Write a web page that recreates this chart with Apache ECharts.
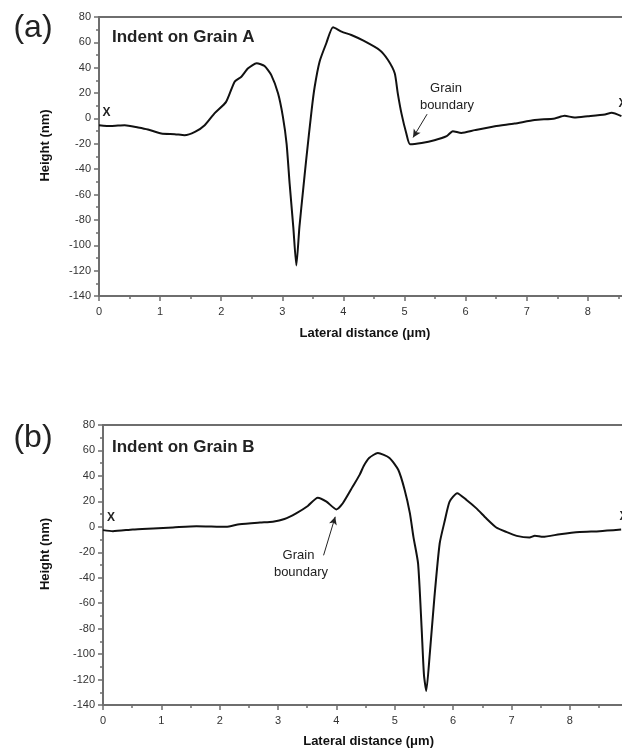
<!DOCTYPE html>
<html>
<head>
<meta charset="utf-8">
<script src="https://cdn.jsdelivr.net/npm/echarts/dist/echarts.min.js"></script>
<style>
  html, body { margin: 0; padding: 0; background: #fff; }
  #chart { width: 622px; height: 749px; }
</style>
</head>
<body>
<div id="chart"></div>
<script>
// profile across indent on grain A (lateral distance in um, height in nm)
const xA = [0.00, 0.20, 0.42, 0.64, 0.80, 1.02, 1.24, 1.40, 1.57, 1.73, 1.89, 2.08, 2.22, 2.33, 2.44, 2.58,
  2.71, 2.82, 2.93, 3.01, 3.07, 3.12, 3.18, 3.23, 3.28, 3.34, 3.39, 3.48, 3.53, 3.61, 3.72, 3.83,
  3.97, 4.13, 4.32, 4.59, 4.73, 4.84, 4.89, 4.95, 5.03, 5.09, 5.28, 5.49, 5.69, 5.79, 5.93, 6.15,
  6.48, 6.80, 7.13, 7.46, 7.62, 7.78, 8.00, 8.28, 8.39, 8.55]
const yA = [-5.3, -6.0, -5.3, -7.1, -8.7, -11.9, -12.4, -13.2, -10.6, -5.3, 4.0, 13.1, 29.0, 32.9, 39.5, 43.5,
  41.3, 34.2, 19.8, 1.3, -19.8, -51.4, -85.7, -116, -85.7, -56.7, -33, 6.6, 25, 44.8, 59.3, 71.9,
  68.5, 65.8, 61.5, 54, 46.1, 35.6, 19.8, 4.0, -11.9, -20.3, -19.3, -17.2, -14, -10, -11.4, -9.2,
  -6.1, -4, -1.3, 0, 2.1, 0.8, 1.8, 3.2, 4.4, 1.8]

// profile across indent on grain B
const xB = [0.00, 0.17, 0.51, 0.86, 1.20, 1.60, 2.11, 2.34, 2.69, 2.91, 3.11, 3.31, 3.51, 3.68, 3.83, 4.00,
  4.11, 4.28, 4.40, 4.47, 4.56, 4.71, 4.91, 5.06, 5.17, 5.26, 5.32, 5.40, 5.46, 5.50, 5.54, 5.60,
  5.68, 5.77, 5.86, 5.94, 6.07, 6.23, 6.40, 6.57, 6.74, 6.91, 7.09, 7.31, 7.40, 7.54, 7.83, 8.17,
  8.51, 8.88]
const yB = [-2.6, -3.4, -2.1, -1.3, -0.5, 0.5, 0.0, 2.1, 3.4, 4.0, 6.1, 10.6, 16.4, 22.9, 19.8, 13.7,
  18.5, 31.6, 41, 48, 54.1, 58, 54.1, 44.8, 29, 10.6, -7.9, -28.9, -79, -115.9, -129, -100,
  -55.3, -13.1, 5.3, 19.8, 26.4, 21.1, 14.5, 6.6, -0.5, -4, -7.1, -8.4, -7.1, -7.9, -5.8, -4,
  -3.4, -2.1]

const xTicks = [0, 9, 1]         // min, max, interval
const yTicks = [-140, 80, 20]

// grain boundary arrows: [tail, head] in data coords
const arrowA = [[5.37, 3.4], [5.14, -15]]
const arrowB = [[3.78, -22.4], [3.98, 7.9]]

const FONT = '"Liberation Sans", Arial, sans-serif'
const AXIS_COLOR = '#6e6e6e'

const chart = echarts.init(document.getElementById('chart'))

// nameGap / name padding differ a little between the two panels
function xAxisCfg(gridIndex, gap, pad) {
  return {
    type: 'value', gridIndex, min: xTicks[0], max: xTicks[1], interval: xTicks[2],
    name: 'Lateral distance (\u03bcm)', nameLocation: 'middle', nameGap: gap,
    nameTextStyle: { fontFamily: FONT, fontSize: 13, fontWeight: 'bold', color: '#111', padding: pad },
    axisLine: { onZero: false, lineStyle: { color: AXIS_COLOR, width: 2 } },
    axisTick: { length: 5, lineStyle: { color: AXIS_COLOR, width: 1.5 } },
    minorTick: { show: true, splitNumber: 2, length: 3, lineStyle: { color: AXIS_COLOR, width: 1.5 } },
    axisLabel: { fontFamily: FONT, fontSize: 11, color: '#333', margin: 10 },
    splitLine: { show: false }
  }
}

function topAxisCfg(gridIndex) {
  return {
    type: 'value', gridIndex, position: 'top', min: xTicks[0], max: xTicks[1],
    axisLine: { onZero: false, lineStyle: { color: AXIS_COLOR, width: 2 } },
    axisTick: { show: false }, axisLabel: { show: false }, splitLine: { show: false }
  }
}

function yAxisCfg(gridIndex, gap) {
  return {
    type: 'value', gridIndex, min: yTicks[0], max: yTicks[1], interval: yTicks[2],
    name: 'Height (nm)', nameLocation: 'middle', nameGap: gap, nameRotate: 90,
    nameTextStyle: { fontFamily: FONT, fontSize: 13, fontWeight: 'bold', color: '#111', padding: [0, 0, 0, 22] },
    axisLine: { onZero: false, lineStyle: { color: AXIS_COLOR, width: 2 } },
    axisTick: { length: 5, lineStyle: { color: AXIS_COLOR, width: 1.5 } },
    minorTick: { show: true, splitNumber: 2, length: 3, lineStyle: { color: AXIS_COLOR, width: 1.5 } },
    axisLabel: { fontFamily: FONT, fontSize: 11, color: '#333', margin: 8 },
    splitLine: { show: false }
  }
}

function arrowLine(a) {
  return {
    silent: true, symbol: ['none', 'arrow'], symbolSize: [6, 8],
    lineStyle: { color: '#222', width: 1, type: 'solid' },
    label: { show: false },
    data: [[{ coord: a[0] }, { coord: a[1] }]]
  }
}

function txt(x, y, text, size, weight, align) {
  return {
    type: 'text', x, y,
    style: { text, fontFamily: FONT, fontSize: size, fontWeight: weight || 'normal', fill: '#222',
      align: align || 'center', verticalAlign: 'middle' }
  }
}

chart.setOption({
  animation: false,
  grid: [
    { left: 99, top: 17, width: 9 * 61.1, height: 279, outerBoundsMode: 'none', containLabel: false },
    { left: 103, top: 425, width: 9 * 58.35, height: 280, outerBoundsMode: 'none', containLabel: false }
  ],
  xAxis: [
    xAxisCfg(0, 31, [0, 18, 0, 0]),
    xAxisCfg(1, 30, [0, 0, 0, 6]),
    topAxisCfg(0), topAxisCfg(1)
  ],
  yAxis: [yAxisCfg(0, 47), yAxisCfg(1, 51)],
  series: [
    {
      type: 'line', xAxisIndex: 0, yAxisIndex: 0, showSymbol: false, smooth: 0.2,
      lineStyle: { color: '#111', width: 2 },
      data: xA.map((x, i) => [x, yA[i]]),
      markLine: arrowLine(arrowA)
    },
    {
      type: 'line', xAxisIndex: 1, yAxisIndex: 1, showSymbol: false, smooth: 0.2,
      lineStyle: { color: '#111', width: 2 },
      data: xB.map((x, i) => [x, yB[i]]),
      markLine: arrowLine(arrowB)
    }
  ],
  graphic: [
    txt(33, 28, '(a)', 32),
    txt(112, 37, 'Indent on Grain A', 17, 'bold', 'left'),
    txt(106.5, 113, 'X', 12, 'bold'),
    txt(622.5, 104, 'X', 12, 'bold'),
    txt(446, 88, 'Grain', 13),
    txt(447, 105, 'boundary', 13),
    txt(33, 438, '(b)', 32),
    txt(112, 447, 'Indent on Grain B', 17, 'bold', 'left'),
    txt(111, 517.5, 'X', 12, 'bold'),
    txt(623.5, 517, 'X', 12, 'bold'),
    txt(298.5, 555.5, 'Grain', 13),
    txt(301, 572, 'boundary', 13)
  ]
})
</script>
</body>
</html>
